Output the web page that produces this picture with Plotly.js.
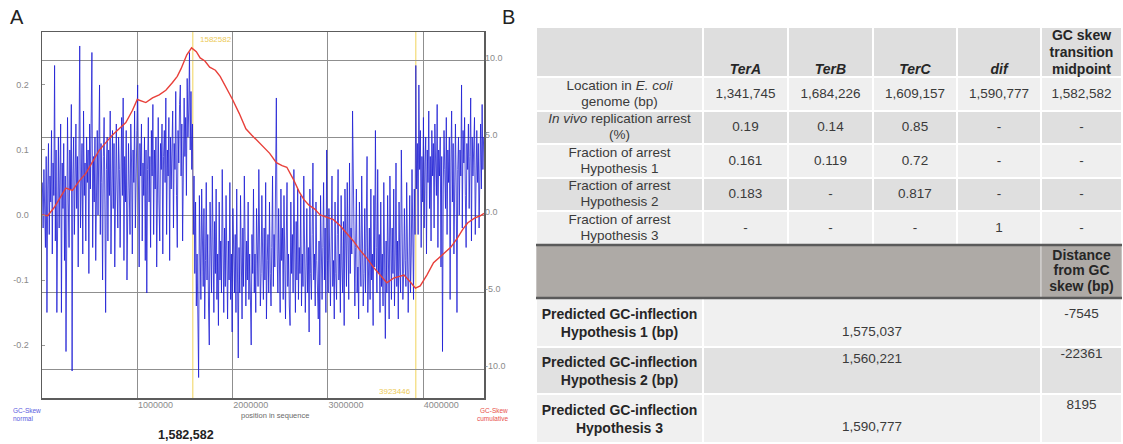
<!DOCTYPE html>
<html><head><meta charset="utf-8">
<script src="https://cdn.plot.ly/plotly-3.0.1.min.js"></script>
<style>html,body{margin:0;padding:0;background:#fff;} #chart{width:1123px;height:444px;}</style>
</head><body><div id="chart"></div>
<script>
// ---------------- DATA ----------------
const genomeLength = 4639675;
const windowSize = 8000;
// GC skew (normal), one value per window
const skewNormal = [
0.05,-0.02,0.07,0.01,-0.05,0.09,-0.15,0.04,0.11,-0.03,0.06,0.02,0.13,-0.06,0.08,0.03,0.23,-0.04,0.10,-0.15,
0.07,0.12,-0.02,0.05,0.14,-0.15,0.08,0.01,0.11,-0.07,0.06,-0.21,0.09,0.15,0.02,-0.05,0.10,0.04,0.17,-0.24,
0.06,0.12,-0.03,0.08,0.14,0.01,0.09,-0.08,0.13,0.26,-0.02,0.07,0.11,-0.06,0.16,0.03,0.08,-0.04,0.12,0.05,
0.10,-0.09,0.14,0.04,0.18,0.25,-0.05,0.09,0.02,0.12,-0.07,0.06,0.13,0.00,0.08,0.20,-0.03,0.11,0.05,-0.10,
0.09,0.15,0.02,-0.15,0.07,0.12,-0.04,0.10,0.03,0.16,-0.06,0.08,0.13,0.01,0.11,-0.08,0.06,0.14,0.04,-0.02,
0.12,0.07,-0.05,0.10,0.15,0.03,0.18,-0.07,0.09,0.02,0.13,-0.10,0.06,0.11,0.04,-0.03,0.14,0.08,-0.06,0.10,
0.05,0.16,-0.02,0.09,0.13,0.20,0.01,-0.08,0.11,0.06,0.14,-0.04,0.08,0.03,0.12,-0.07,0.10,-0.12,0.07,0.15,
0.02,0.09,-0.05,0.13,0.06,0.17,-0.03,0.10,0.04,0.12,-0.08,0.08,0.15,0.02,-0.04,0.11,0.07,0.14,-0.06,0.09,
0.13,0.05,0.18,-0.03,0.10,0.06,0.15,-0.07,0.12,0.04,0.09,0.16,-0.02,0.11,0.07,0.19,0.03,-0.05,0.13,0.08,
0.17,0.20,0.06,0.14,-0.04,0.11,0.18,0.09,0.15,0.03,0.21,0.12,0.16,0.25,0.10,0.19,0.07,0.14,
-0.03,0.06,-0.09,0.02,-0.14,-0.06,-0.18,-0.25,0.03,-0.08,-0.13,0.04,-0.05,-0.11,0.01,-0.16,-0.07,0.05,-0.10,-0.03,
-0.14,-0.20,0.02,-0.08,-0.12,0.06,-0.05,-0.15,-0.01,-0.09,0.04,-0.13,-0.06,-0.17,0.02,-0.10,-0.04,-0.12,0.07,-0.08,
-0.15,-0.02,-0.11,0.03,-0.07,-0.16,-0.04,-0.10,0.05,-0.13,-0.06,-0.18,0.01,-0.09,-0.12,-0.03,-0.15,0.04,-0.08,-0.22,
-0.05,-0.12,0.03,-0.09,-0.16,-0.02,-0.11,0.06,-0.07,-0.14,-0.04,-0.10,0.02,-0.13,-0.06,-0.17,-0.20,-0.03,-0.09,0.04,
-0.12,-0.06,-0.15,0.01,-0.08,-0.11,0.07,-0.04,-0.14,-0.09,0.03,-0.06,-0.13,-0.02,-0.10,0.05,-0.16,-0.07,-0.03,-0.12,
0.02,-0.09,-0.14,-0.05,0.06,-0.11,-0.03,-0.08,0.09,0.18,-0.06,-0.12,0.01,-0.10,-0.15,0.04,-0.07,-0.02,-0.13,0.03,
-0.08,-0.16,-0.04,0.05,-0.11,-0.06,-0.14,-0.17,0.02,-0.09,-0.03,-0.12,0.07,-0.07,-0.15,-0.01,-0.10,0.04,-0.13,-0.05,
-0.09,0.03,-0.14,-0.06,-0.11,0.06,-0.02,-0.15,-0.08,0.01,-0.12,-0.05,-0.18,0.04,-0.09,-0.13,-0.03,0.08,-0.10,-0.06,
-0.14,0.02,-0.07,-0.11,-0.16,-0.04,-0.20,0.03,-0.09,-0.13,-0.05,0.05,-0.10,-0.02,-0.15,0.10,-0.07,-0.12,0.01,-0.08,
-0.14,-0.04,0.06,-0.11,-0.07,-0.16,0.02,-0.09,-0.13,-0.03,0.07,-0.10,-0.06,-0.15,0.03,-0.08,-0.12,-0.01,-0.17,0.04,
-0.07,-0.11,0.05,-0.04,-0.13,0.08,-0.09,-0.02,-0.06,0.16,0.03,-0.10,-0.14,-0.05,0.04,-0.12,-0.08,-0.16,0.02,-0.06,
-0.11,0.06,-0.03,-0.14,-0.09,0.01,-0.12,-0.05,0.09,-0.15,-0.07,-0.02,-0.13,0.04,-0.10,-0.06,-0.17,0.03,-0.08,0.13,
-0.05,-0.12,0.07,-0.09,-0.03,-0.15,0.02,-0.11,-0.06,-0.14,0.05,-0.08,-0.19,-0.04,-0.12,0.03,-0.10,-0.16,0.06,-0.07,
-0.13,-0.02,-0.09,0.04,-0.14,-0.06,0.08,-0.11,-0.04,-0.16,0.02,-0.08,-0.12,0.10,-0.05,-0.13,-0.09,0.01,-0.07,-0.11,
0.05,-0.04,-0.15,-0.08,0.03,-0.12,-0.06,0.07,-0.10,-0.13,0.04,-0.03,
0.23,0.04,0.11,-0.03,0.20,0.07,0.13,-0.05,0.09,0.02,0.15,-0.02,0.08,0.12,-0.06,0.10,0.05,0.16,0.01,0.09,
-0.04,0.13,0.06,0.11,-0.02,0.14,0.08,0.03,0.17,-0.05,0.10,0.06,0.12,-0.08,0.09,-0.21,0.04,0.13,0.07,0.01,
0.15,-0.03,0.10,0.05,0.12,-0.13,0.08,0.16,0.02,0.11,-0.06,0.09,0.14,0.04,-0.15,0.07,0.12,0.00,0.10,0.06,
0.20,-0.02,0.13,0.08,0.15,0.03,-0.05,0.11,0.07,0.14,0.01,0.09,0.18,-0.04,0.12,0.06,0.10,0.15,-0.03,0.08,
0.13,0.05,0.11,-0.02,0.09,0.14,0.04,0.17,0.07,0.12
];
// GC skew (cumulative)
const cumulativePositions = [0,60000,130000,200000,250000,320000,390000,460000,530000,600000,670000,740000,810000,880000,950000,
1000000,1090000,1160000,1230000,1300000,1370000,1420000,1460000,1520000,1570000,1620000,1660000,1710000,1760000,1820000,
1870000,1940000,2000000,2070000,2140000,2200000,2260000,2320000,2390000,2460000,2520000,2570000,2640000,2700000,2750000,
2800000,2860000,2920000,2990000,3060000,3130000,3200000,3270000,3340000,3410000,3480000,3550000,3620000,3690000,3750000,
3800000,3860000,3920000,3970000,4040000,4110000,4180000,4240000,4290000,4360000,4420000,4470000,4540000,4600000,4639675];
const cumulativeSkew = [0,-0.05,0.5,1.2,1.75,1.6,2.2,2.7,3.5,4.2,4.7,5.2,5.6,6.0,6.8,
7.5,7.3,7.6,7.8,8.1,8.6,9.0,9.5,10.4,10.85,10.6,10.2,10.0,9.6,9.4,
9.0,8.2,7.5,6.6,5.6,5.2,4.8,4.4,4.0,3.4,3.2,3.1,2.3,1.5,1.0,
0.65,0.4,0.0,-0.15,-0.3,-0.7,-1.2,-1.7,-2.3,-2.8,-3.4,-3.9,-4.4,-4.1,-4.0,
-3.9,-4.3,-4.75,-4.6,-3.9,-3.1,-2.7,-2.4,-2.1,-1.5,-0.9,-0.5,-0.2,-0.05,0.1];
const markerPositions = [1582582, 3923446];
const transitionMidpoint = 1582582;

const xTickValues = [1000000, 2000000, 3000000, 4000000];
const xTickLabels = ['1000000', '2000000', '3000000', '4000000'];
const leftTickValues = [-0.2, -0.1, 0, 0.1, 0.2];
const leftTickLabels = ['-0.2', '-0.1', '0.0', '0.1', '0.2'];
const rightTickValues = [-10, -5, 0, 5, 10];
const rightTickLabels = ['-10.0', '-5.0', '0.0', '5.0', '10.0'];

// Table B
const colHeaders = ['', '<i>TerA</i>', '<i>TerB</i>', '<i>TerC</i>', '<i>dif</i>', 'GC skew<br>transition<br>midpoint'];
const rowLabels = ['Location in <i>E. coli</i><br>genome (bp)', '<i>In vivo</i> replication arrest<br>(%)',
  'Fraction of arrest<br>Hypothesis 1', 'Fraction of arrest<br>Hypothesis 2', 'Fraction of arrest<br>Hypothesis 3'];
const locations = ['1,341,745', '1,684,226', '1,609,157', '1,590,777', '1,582,582'];
const inVivoArrest = ['0.19', '0.14', '0.85', '-', '-'];
const fractionHyp1 = ['0.161', '0.119', '0.72', '-', '-'];
const fractionHyp2 = ['0.183', '-', '0.817', '-', '-'];
const fractionHyp3 = ['-', '-', '-', '1', '-'];
const distanceHeader = 'Distance<br>from GC<br>skew (bp)';
const predictedLabels = ['Predicted GC-inflection<br>Hypothesis 1 (bp)', 'Predicted GC-inflection<br>Hypothesis 2 (bp)', 'Predicted GC-inflection<br>Hypothesis 3'];
const predictedInflection = ['1,575,037', '1,560,221', '1,590,777'];
const distanceFromSkew = ['-7545', '-22361', '8195'];

// ---------------- LAYOUT / STYLE ----------------
const W = 1123, H = 444;
const fx = p => p / W, fy = p => 1 - p / H;
const FONT = 'Liberation Sans, Arial, sans-serif';

const colWidths = [167, 85, 85, 84, 84, 81];
const topRowHeights = [50, 34, 33, 34, 33, 34];
const barHeight = 53;
const bottomRowHeights = [49, 47, 49];
const colEdges = [0]; colWidths.forEach(w => colEdges.push(colEdges[colEdges.length - 1] + w));
const topEdges = [0]; topRowHeights.forEach(h => topEdges.push(topEdges[topEdges.length - 1] + h));
const barTop = topEdges[topEdges.length - 1], barBottom = barTop + barHeight;
const bottomEdges = [barBottom]; bottomRowHeights.forEach(h => bottomEdges.push(bottomEdges[bottomEdges.length - 1] + h));
const tableWidth = colEdges[colEdges.length - 1], tableHeight = bottomEdges[bottomEdges.length - 1];
const colCenter = c => (colEdges[c] + colEdges[c + 1]) / 2;

const shapes = [];
const tt = {x: [], y: [], text: [], size: [], color: []};
function addText(xc, yc, str, size, color, spacing, bold) {
  const lines = str.split('<br>');
  lines.forEach((ln, k) => {
    tt.x.push(xc);
    tt.y.push(yc + (k - (lines.length - 1) / 2) * spacing);
    tt.text.push(bold ? '<b>' + ln + '</b>' : ln);
    tt.size.push(size); tt.color.push(color);
  });
}
function cell(x0, x1, y0, y1, fill) {
  shapes.push({type: 'rect', xref: 'x3', yref: 'y3', x0: x0, x1: x1, y0: y0, y1: y1,
    fillcolor: fill, line: {color: '#ffffff', width: 2}, layer: 'below'});
}
const TXT = '#3a3a3a', HDR = '#262626';
// header row
colHeaders.forEach((h, c) => {
  cell(colEdges[c], colEdges[c + 1], topEdges[0], topEdges[1], '#dedede');
  if (h) {
    const n = h.split('<br>').length;
    addText(colCenter(c), topEdges[1] - 6.5 - (n - 1) / 2 * 16.8, h, 14, HDR, 16.8, true);
  }
});
const bodyRows = [locations, inVivoArrest, fractionHyp1, fractionHyp2, fractionHyp3];
const rowFills = ['#efefef', '#dfdfdf', '#efefef', '#dfdfdf', '#efefef'];
bodyRows.forEach((vals, r) => {
  const y0 = topEdges[r + 1], y1 = topEdges[r + 2], yc = (y0 + y1) / 2 + 0.5;
  cell(colEdges[0], colEdges[1], y0, y1, rowFills[r]);
  addText(colCenter(0), yc, rowLabels[r], 13.5, TXT, 16, false);
  vals.forEach((v, c) => {
    cell(colEdges[c + 1], colEdges[c + 2], y0, y1, rowFills[r]);
    addText(colCenter(c + 1), yc, v, 13.5, TXT, 16, false);
  });
});
// grey bar
cell(colEdges[0], colEdges[5], barTop, barBottom, '#aeaaa6');
cell(colEdges[5], colEdges[6], barTop, barBottom, '#aeaaa6');
shapes[shapes.length - 1].line = {color: '#cfcdcb', width: 1.5};
shapes[shapes.length - 2].line = {color: '#cfcdcb', width: 1.5};
addText(colCenter(5), (barTop + barBottom) / 2, distanceHeader, 14, HDR, 15.5, true);
// bottom rows
const bottomFills = ['#f0f0f0', '#e1e1e1', '#f0f0f0'];
const valueOffsets = [35, 13, 34];   // vertical text placement inside each row (px from row top)
const distOffsets = [17, 8, 12];
predictedLabels.forEach((lab, r) => {
  const y0 = bottomEdges[r], y1 = bottomEdges[r + 1];
  cell(colEdges[0], colEdges[1], y0, y1, bottomFills[r]);
  cell(colEdges[1], colEdges[5], y0, y1, bottomFills[r]);
  cell(colEdges[5], colEdges[6], y0, y1, bottomFills[r]);
  addText(colCenter(0), (y0 + y1) / 2 + 1.5, lab, 14, HDR, 18, true);
  addText((colEdges[1] + colEdges[5]) / 2, y0 + valueOffsets[r], predictedInflection[r], 13.5, TXT, 16, false);
  addText(colCenter(5), y0 + distOffsets[r], distanceFromSkew[r], 13.5, TXT, 16, false);
});
// dark rules around the grey bar
[barTop, barBottom].forEach(yv => shapes.push({type: 'line', xref: 'x3', yref: 'y3', x0: 0, x1: tableWidth,
  y0: yv, y1: yv, line: {color: '#5a5a5a', width: 2.5}, layer: 'above'}));

// yellow position markers in panel A
markerPositions.forEach(p => shapes.push({type: 'line', xref: 'x', yref: 'y domain', x0: p, x1: p, y0: 0, y1: 1,
  line: {color: '#f4de80', width: 1.3}, layer: 'below'}));

const traces = [
  {type: 'scatter', mode: 'lines', x: skewNormal.map((v, i) => (i + 0.5) * windowSize), y: skewNormal,
   xaxis: 'x', yaxis: 'y', line: {color: 'rgba(30,30,212,0.8)', width: 1}, hoverinfo: 'skip'},
  {type: 'scatter', mode: 'lines', x: cumulativePositions, y: cumulativeSkew,
   xaxis: 'x', yaxis: 'y2', line: {color: '#e8403a', width: 1.4}, hoverinfo: 'skip'},
  {type: 'scatter', mode: 'text', x: tt.x, y: tt.y, text: tt.text, xaxis: 'x3', yaxis: 'y3',
   textposition: 'middle center', textfont: {family: FONT, size: tt.size, color: tt.color}, hoverinfo: 'skip'}
];

const tickFont = {family: FONT, size: 9, color: '#8a8a8a'};
const small = (txt, x, y, color, anchor) => ({text: txt, xref: 'paper', yref: 'paper', x: fx(x), y: fy(y),
  xanchor: anchor || 'left', yanchor: 'middle', showarrow: false, borderpad: 0,
  font: {family: FONT, size: 6.5, color: color}});

const layout = {
  width: W, height: H, margin: {l: 0, r: 0, t: 0, b: 0}, showlegend: false,
  paper_bgcolor: '#ffffff', plot_bgcolor: '#ffffff', font: {family: FONT},
  xaxis: {domain: [fx(42), fx(484)], range: [0, genomeLength], anchor: 'y',
    tickvals: xTickValues, ticktext: xTickLabels, ticks: '', ticklabelposition: 'outside right',
    ticklabelstandoff: -2,
    showgrid: true, gridcolor: '#8f8f8f', gridwidth: 1, zeroline: false,
    showline: true, linecolor: '#5c5c5c', linewidth: 1.5, mirror: true, tickfont: tickFont},
  yaxis: {domain: [fy(398), fy(32)], range: [-0.2815, 0.2815], anchor: 'x',
    tickvals: leftTickValues, ticktext: leftTickLabels, ticks: 'inside', ticklen: 3, tickcolor: '#9a9a9a',
    ticklabelstandoff: 10, showgrid: false, zeroline: false,
    showline: true, linecolor: '#5c5c5c', linewidth: 1.5, mirror: true, tickfont: tickFont},
  yaxis2: {overlaying: 'y', side: 'right', anchor: 'x', range: [-11.88, 11.88],
    tickvals: rightTickValues, ticktext: rightTickLabels, ticks: '', ticklabelshift: -3,
    showgrid: true, gridcolor: '#8f8f8f', gridwidth: 1, zeroline: false, showline: false, tickfont: tickFont},
  xaxis3: {domain: [fx(536), fx(1122)], range: [0, tableWidth], anchor: 'y3', visible: false, fixedrange: true},
  yaxis3: {domain: [fy(443), fy(27)], range: [tableHeight, 0], anchor: 'x3', visible: false, fixedrange: true},
  shapes: shapes,
  annotations: [
    {text: 'A', xref: 'paper', yref: 'paper', x: fx(17), y: fy(17), showarrow: false, xanchor: 'center', yanchor: 'middle',
     font: {family: FONT, size: 20, color: '#222'}},
    {text: 'B', xref: 'paper', yref: 'paper', x: fx(508), y: fy(17), showarrow: false, xanchor: 'center', yanchor: 'middle',
     font: {family: FONT, size: 20, color: '#222'}},
    {text: String(markerPositions[0]), xref: 'x', yref: 'y domain', x: markerPositions[0], y: 1, xanchor: 'left',
     yanchor: 'middle', xshift: 5, yshift: -7, showarrow: false, font: {family: FONT, size: 8, color: '#ecca58'}},
    {text: String(markerPositions[1]), xref: 'x', yref: 'y domain', x: markerPositions[1], y: 0, xanchor: 'right',
     yanchor: 'middle', xshift: -3, yshift: 6, showarrow: false, font: {family: FONT, size: 8, color: '#ecca58'}},
    small('GC-Skew', 12, 410.5, '#5a5ae0'), small('normal', 12, 418, '#5a5ae0'),
    small('GC-Skew', 509, 410.5, '#e8504a', 'right'), small('cumulative', 509, 418, '#e8504a', 'right'),
    {text: 'position in sequence', xref: 'paper', yref: 'paper', x: fx(275), y: fy(415.5), showarrow: false,
     borderpad: 0, xanchor: 'center', yanchor: 'middle', font: {family: FONT, size: 7.5, color: '#6a6a6a'}},
    {text: '<b>' + transitionMidpoint.toLocaleString('en-US') + '</b>', xref: 'paper', yref: 'paper', x: fx(186), y: fy(435),
     showarrow: false, xanchor: 'center', yanchor: 'middle', font: {family: FONT, size: 12.5, color: '#222'}}
  ]
};

Plotly.newPlot('chart', traces, layout, {staticPlot: true, displayModeBar: false});
</script></body></html>
